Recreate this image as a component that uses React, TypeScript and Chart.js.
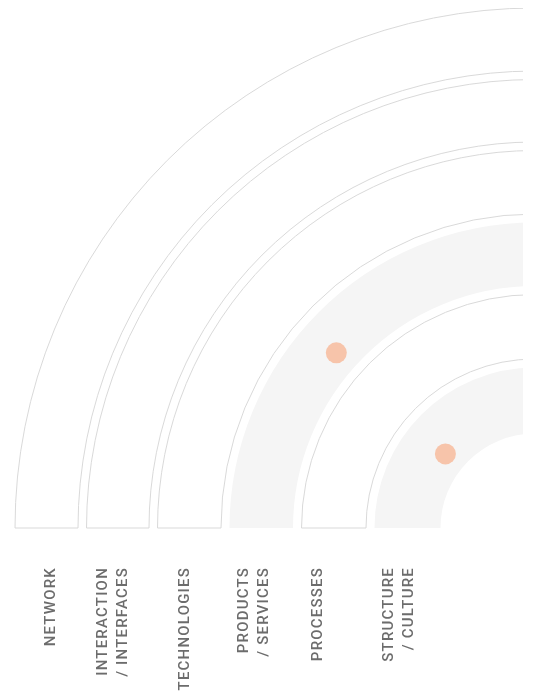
import React, { useEffect, useRef } from 'react';
import { Chart, registerables } from 'chart.js';

Chart.register(...registerables);

// ---- data ----
const categories = [
  'NETWORK',
  'INTERACTION / INTERFACES',
  'TECHNOLOGIES',
  'PRODUCTS / SERVICES',
  'PROCESSES',
  'STRUCTURE / CULTURE',
];
const labelLines = [
  ['NETWORK'],
  ['INTERACTION', '/ INTERFACES'],
  ['TECHNOLOGIES'],
  ['PRODUCTS', '/ SERVICES'],
  ['PROCESSES'],
  ['STRUCTURE', '/ CULTURE'],
];
const ringValues = [1, 1, 1, 1, 1, 1];
const highlighted = [false, false, false, true, false, true];
// marker position: fraction of the sweep (from the left end) and fraction across the ring (from inner edge)
const markerAlong: (number | null)[] = [null, null, null, 0.46, null, 0.44];
const markerDepth: (number | null)[] = [null, null, null, 0.36, null, 0.33];

// ---- styles / sizes ----
const RING_WEIGHTS = [63, 62.5, 63.5, 63.5, 64.5, 66];
const GAP_WEIGHT = 8.5;
const OUTER_RADIUS = 520;
const LINE_COLOR = '#d9d9d9';
const FILL_GRAY = '#f5f5f5';
const MARKER_COLOR = '#f7c4aa';
const TEXT_COLOR = '#6c6c6c';
const LABEL_SHIFT = [5, -5, -4, -7, -16, -8];

export default function App() {
  const canvasRef = useRef<HTMLCanvasElement | null>(null);

  useEffect(() => {
    const canvas = canvasRef.current;
    if (!canvas) return;

    const datasets: any[] = [];
    const ringIndex: number[] = [];
    categories.forEach((cat, i) => {
      ringIndex.push(datasets.length);
      datasets.push({
        label: cat,
        data: [ringValues[i]],
        backgroundColor: highlighted[i] ? FILL_GRAY : '#ffffff',
        borderColor: highlighted[i] ? 'rgba(0,0,0,0)' : LINE_COLOR,
        borderWidth: highlighted[i] ? 0 : 1,
        borderJoinStyle: 'miter',
        weight: RING_WEIGHTS[i],
      });
      if (i < categories.length - 1) {
        datasets.push({
          label: 'gap',
          data: [1],
          backgroundColor: 'rgba(0,0,0,0)',
          borderWidth: 0,
          weight: GAP_WEIGHT,
        });
      }
    });

    const totalWeight = RING_WEIGHTS.reduce((a, b) => a + b, 0) + GAP_WEIGHT * (categories.length - 1);
    const cutoutPct = ((OUTER_RADIUS - totalWeight) / OUTER_RADIUS) * 100;

    const overlayPlugin = {
      id: 'ringOverlay',
      afterDatasetsDraw(chart: any) {
        const ctx = chart.ctx;
        ctx.save();
        // markers
        ringIndex.forEach((dsIndex, i) => {
          const along = markerAlong[i];
          const depth = markerDepth[i];
          if (along == null || depth == null) return;
          const arc = chart.getDatasetMeta(dsIndex).data[0];
          const p = arc.getProps(['x', 'y', 'startAngle', 'endAngle', 'innerRadius', 'outerRadius'], true);
          const a = p.startAngle + (p.endAngle - p.startAngle) * along;
          const r = p.innerRadius + (p.outerRadius - p.innerRadius) * depth;
          ctx.beginPath();
          ctx.fillStyle = MARKER_COLOR;
          ctx.arc(p.x + r * Math.cos(a), p.y + r * Math.sin(a), 10.5, 0, Math.PI * 2);
          ctx.fill();
        });
        // labels under each ring
        ctx.fillStyle = TEXT_COLOR;
        ctx.font = '500 15px Roboto, "Noto Sans", sans-serif';
        try { (ctx as any).letterSpacing = '1.2px'; } catch (e) { /* ignore */ }
        ctx.textAlign = 'right';
        ctx.textBaseline = 'middle';
        ringIndex.forEach((dsIndex, i) => {
          const arc = chart.getDatasetMeta(dsIndex).data[0];
          const p = arc.getProps(['x', 'y', 'innerRadius', 'outerRadius'], true);
          const cx = p.x - (p.innerRadius + p.outerRadius) / 2 + LABEL_SHIFT[i];
          const cy = p.y + 39;
          const lines = labelLines[i];
          const lh = 20;
          ctx.save();
          ctx.translate(cx, cy);
          ctx.rotate(-Math.PI / 2);
          lines.forEach((ln, j) => {
            ctx.fillText(ln, 0, (j - (lines.length - 1) / 2) * lh);
          });
          ctx.restore();
        });
        ctx.restore();
      },
    };

    const chart = new Chart(canvas, {
      type: 'doughnut',
      data: { labels: ['ring'], datasets },
      options: {
        animation: false,
        responsive: false,
        devicePixelRatio: 1,
        rotation: 270,
        circumference: 90,
        radius: OUTER_RADIUS,
        cutout: cutoutPct + '%',
        layout: { padding: { left: 7, right: 0, top: 0, bottom: 167 } },
        plugins: {
          legend: { display: false },
          tooltip: { enabled: false },
        },
        events: [],
      } as any,
      plugins: [overlayPlugin],
    });

    return () => chart.destroy();
  }, []);

  return (
    <div style={{ width: 515, height: 687, overflow: 'hidden' }}>
      <canvas ref={canvasRef} width={527} height={687} style={{ display: 'block', width: 527, height: 687 }} />
    </div>
  );
}
